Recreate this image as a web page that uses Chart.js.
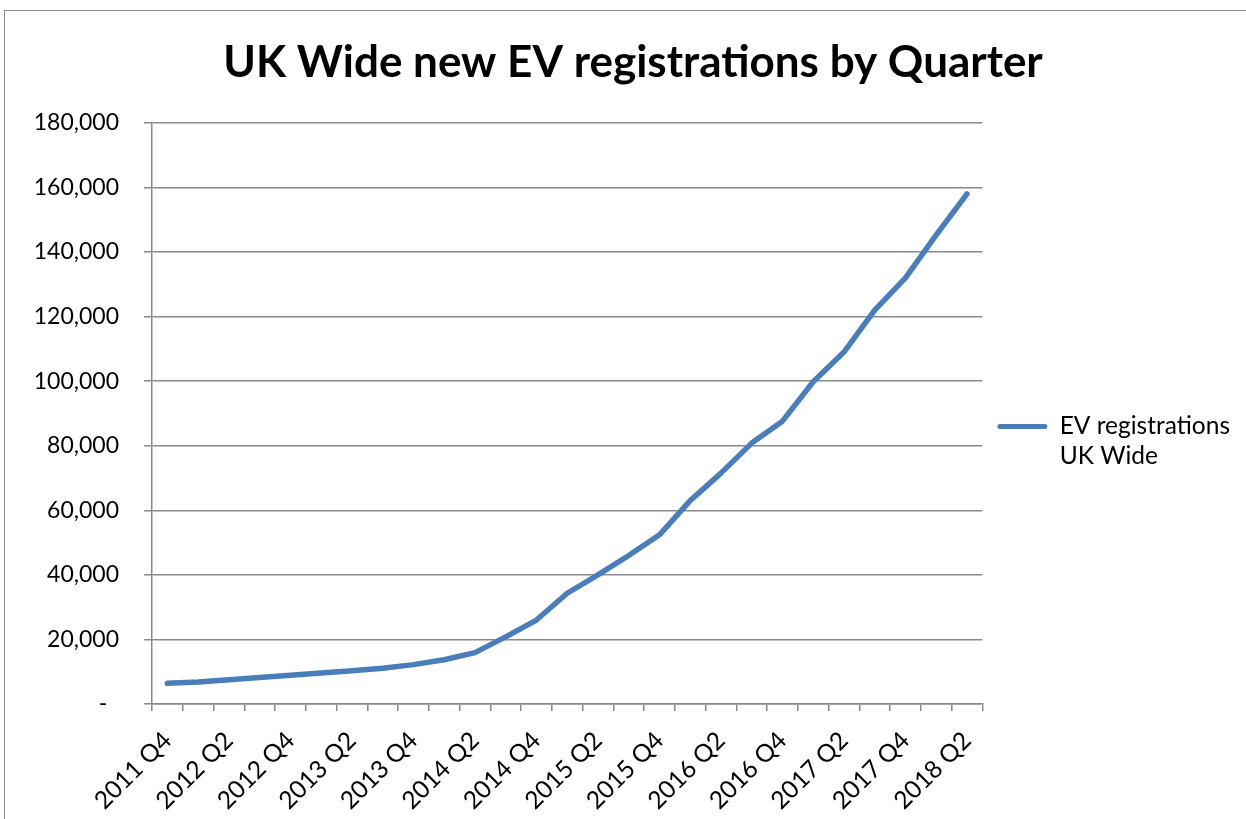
<!DOCTYPE html>
<html lang="en">
  <head>
    <meta charset="utf-8">
    <title>UK Wide new EV registrations by Quarter</title>
    <script src="https://cdn.jsdelivr.net/npm/chart.js@4.4.0/dist/chart.umd.min.js"></script>
    <style>
      html, body { margin: 0; padding: 0; background: #fff; overflow: hidden; }
      #wrap { position: relative; width: 1246px; height: 819px; }
      #frame { position: absolute; left: 4px; top: 10px; width: 1300px; height: 900px;
               border: 1.5px solid #8c8c8c; pointer-events: none; }
    </style>
  </head>
  <body>
    <div id="wrap">
      <canvas id="chart" width="1246" height="819"></canvas>
      <div id="frame"></div>
    </div>

    <script>
    // quarters shown on the x axis
    const quarters = [
      '2011 Q4',
      '2012 Q1', '2012 Q2', '2012 Q3', '2012 Q4',
      '2013 Q1', '2013 Q2', '2013 Q3', '2013 Q4',
      '2014 Q1', '2014 Q2', '2014 Q3', '2014 Q4',
      '2015 Q1', '2015 Q2', '2015 Q3', '2015 Q4',
      '2016 Q1', '2016 Q2', '2016 Q3', '2016 Q4',
      '2017 Q1', '2017 Q2', '2017 Q3', '2017 Q4',
      '2018 Q1', '2018 Q2'
    ];
    // cumulative EV registrations
    const registrations = [
      6400, 6800, 7500, 8200, 8900, 9600, 10300, 11100, 12200, 13700,
      15900, 20800, 26000, 34300, 40000, 46000, 52400, 63000, 71500, 80800,
      87600, 99800, 109000, 122000, 132000, 145300, 158000
    ];
    const seriesName = ['EV registrations', 'UK Wide'];
    const yTicks = [0, 20000, 40000, 60000, 80000, 100000, 120000, 140000, 160000, 180000];

    const gridGrey = '#8a8a8a';
    const font = 'Lato, "Open Sans", sans-serif';

    const ctx = document.getElementById('chart').getContext('2d');
    const myChart = new Chart(ctx, {
      type: 'line',
      data: {
        labels: quarters,
        datasets: [{
          label: seriesName.join(' '),
          data: registrations,
          borderColor: '#4a7ebb',
          backgroundColor: '#4a7ebb',
          borderWidth: 5.5,
          borderCapStyle: 'round',
          borderJoinStyle: 'round',
          pointRadius: 0,
          tension: 0
        }]
      },
      options: {
        responsive: false,
        animation: false,
        // left padding only pushes the title centre right, y axis width is fixed below
        layout: { padding: { left: 26, right: 6, top: 0, bottom: 0 } },
        plugins: {
          tooltip: { enabled: false },
          title: {
            display: true,
            text: 'UK Wide new EV registrations by Quarter',
            color: '#000',
            font: { family: font, size: 44, weight: 'bold', lineHeight: 1.2 },
            padding: { top: 36, bottom: 34 }
          },
          legend: {
            position: 'right',
            align: 'center',
            title: { display: true, text: '', padding: { top: 54, bottom: 0 } },
            labels: {
              color: '#000',
              font: { family: font, size: 24.5, lineHeight: 1.2 },
              boxWidth: 50,
              boxHeight: 5,
              padding: 15,
              generateLabels: function(chart) {
                return [{
                  text: seriesName,
                  fillStyle: '#4a7ebb',
                  strokeStyle: '#4a7ebb',
                  fontColor: '#000',
                  lineWidth: 0,
                  borderRadius: 2.5,
                  datasetIndex: 0
                }];
              }
            }
          }
        },
        scales: {
          x: {
            offset: true,
            afterFit: function(scale) { scale.height = 115; },
            grid: {
              offset: true,
              drawOnChartArea: false,
              drawTicks: true,
              tickLength: 7,
              color: gridGrey,
              lineWidth: 1.5
            },
            border: { display: true, color: gridGrey, width: 1.5 },
            ticks: {
              autoSkip: false,
              maxRotation: 45,
              minRotation: 45,
              padding: 15,
              color: '#000',
              font: { family: font, size: 24.5 },
              callback: function(value, index) {
                return index % 2 === 0 ? quarters[index] : '';
              }
            }
          },
          y: {
            min: 0,
            max: 180000,
            afterFit: function(scale) { scale.width = 126; },
            afterBuildTicks: function(scale) {
              scale.ticks = yTicks.map(v => ({ value: v }));
            },
            grid: {
              color: gridGrey,
              lineWidth: 1.5,
              drawTicks: true,
              tickLength: 8
            },
            border: { display: true, color: gridGrey, width: 1.5 },
            ticks: {
              padding: 25,
              color: '#000',
              font: { family: font, size: 23 },
              callback: function(value) {
                return value === 0 ? '-  ' : value.toLocaleString('en-US');
              }
            }
          }
        }
      }
    });
    </script>
  </body>
</html>
